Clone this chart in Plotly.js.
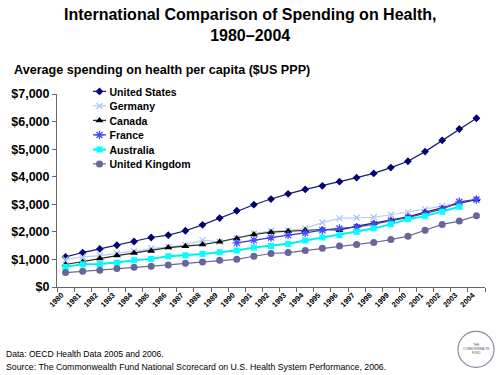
<!DOCTYPE html>
<html>
<head>
<meta charset="utf-8">
<script src="https://cdn.plot.ly/plotly-3.0.1.min.js"></script>
<style>html,body{margin:0;padding:0;background:#fff;}#chart{width:500px;height:375px;}</style>
</head>
<body>
<div id="chart"></div>
<script>
const years = ['1980','1981','1982','1983','1984','1985','1986','1987','1988','1989','1990','1991','1992','1993','1994','1995','1996','1997','1998','1999','2000','2001','2002','2003','2004'];
const unitedStates = [1090,1250,1380,1515,1650,1795,1880,2040,2255,2500,2765,2985,3190,3380,3540,3670,3820,3965,4120,4330,4560,4910,5320,5730,6120];
const germany = [995,1090,1140,1215,1300,1395,1450,1520,1700,1640,1770,1940,2030,2050,2125,2340,2490,2510,2530,2620,2716,2825,2934,3060,3150];
const canada = [815,910,1030,1140,1235,1310,1430,1480,1540,1640,1760,1905,1990,2025,2060,2085,2060,2205,2315,2425,2545,2716,2860,3030,3180];
const france = [null,null,null,null,null,null,null,null,null,null,1600,1700,1795,1880,1965,2060,2125,2170,2280,2400,2520,2670,2825,3090,3175];
const australia = [730,825,835,885,970,1020,1115,1150,1200,1260,1325,1430,1490,1565,1685,1795,1880,2000,2125,2280,2460,2570,2730,2910,null];
const unitedKingdom = [525,570,605,670,715,750,800,860,910,970,1005,1115,1215,1250,1325,1405,1490,1540,1615,1720,1845,2060,2270,2390,2580];

const seriesNames = ['United States','Germany','Canada','France','Australia','United Kingdom'];
const seriesData = [unitedStates, germany, canada, france, australia, unitedKingdom];
const lineColors = ['#1a1a70','#b4cff0','#2a2a2a','#3a3acc','#00f0f0','#6a6a98'];
const markerColors = ['#000070','#a8c8f0','#000000','#4a4aff','#00ffff','#666699'];
const markerSymbols = ['diamond','x-thin-open','triangle-up','asterisk-open','square','circle'];
const markerSizes = [6,6,7,7,6,7];
const lineWidths = [1.2,1.2,1.2,1.2,2,1.2];

const traces = seriesNames.map((n,i)=>({
  type:'scatter', mode:'lines+markers', name:n, x:years, y:seriesData[i],
  line:{color:lineColors[i], width:lineWidths[i]},
  marker:{symbol:markerSymbols[i], size:markerSizes[i], color:markerColors[i],
          line:{color:markerColors[i], width:(markerSymbols[i].indexOf('open')>=0?1.3:0)}},
  connectgaps:false
}));

const F = 'Liberation Sans, Arial, sans-serif';
const PX = v => (v-57)/428;          // pixel x -> paper x
const PY = v => (286.7-v)/192.7;     // pixel y -> paper y
const layout = {
  width:500, height:375,
  margin:{l:57, r:15, t:94, b:88},
  paper_bgcolor:'#ffffff', plot_bgcolor:'#ffffff',
  showlegend:true,
  legend:{x:PX(69.5), y:PY(77), xanchor:'left', yanchor:'top', bgcolor:'rgba(0,0,0,0)',
          font:{family:F, size:10.5, color:'#000', weight:'bold'}, itemwidth:30, tracegroupgap:0},
  xaxis:{type:'category', range:[-0.5,24.5], tickson:'boundaries', ticks:'outside', ticklen:4,
         tickcolor:'#666', showline:true, linecolor:'#666', linewidth:1, showgrid:false, zeroline:false,
         tickangle:-45, tickfont:{family:F, size:7.5, color:'#000', weight:'bold'}, ticklabelshift:-4, automargin:false},
  yaxis:{range:[0,7000], dtick:1000, tickprefix:'$', tickformat:',d', ticks:'outside', ticklen:4,
         tickcolor:'#666', showline:true, linecolor:'#666', linewidth:1, showgrid:false, zeroline:false,
         tickfont:{family:F, size:12.5, color:'#000', weight:'bold'}, automargin:false},
  annotations:[
    {text:'<b>International Comparison of Spending on Health,<br>1980–2004</b>', xref:'paper', yref:'paper',
     x:PX(250), y:PY(25.5), xanchor:'center', yanchor:'middle', showarrow:false,
     font:{family:F, size:16, color:'#000'}},
    {text:'<b>Average spending on health per capita ($US PPP)</b>', xref:'paper', yref:'paper',
     x:PX(12), y:PY(70), xanchor:'left', yanchor:'middle', showarrow:false, font:{family:F, size:12.6, color:'#000'}},
    {text:'Data: OECD Health Data 2005 and 2006.', xref:'paper', yref:'paper', x:PX(4), y:PY(353.2),
     xanchor:'left', yanchor:'middle', showarrow:false, font:{family:F, size:8.6, color:'#000'}},
    {text:'Source: The Commonwealth Fund National Scorecard on U.S. Health System Performance, 2006.', xref:'paper', yref:'paper', x:PX(4), y:PY(366.5),
     xanchor:'left', yanchor:'middle', showarrow:false, font:{family:F, size:8.75, color:'#000'}},
    {text:'THE<br>COMMONWEALTH<br>FUND', xref:'paper', yref:'paper', x:PX(476), y:PY(349),
     xanchor:'center', yanchor:'middle', showarrow:false, font:{family:F, size:3, color:'#555'}}
  ],
  shapes:[
    {type:'circle', xref:'paper', yref:'paper', x0:PX(458), x1:PX(494), y0:PY(331), y1:PY(367),
     line:{color:'#8a8aa0', width:1.2}, fillcolor:'rgba(0,0,0,0)'}
  ]
};
Plotly.newPlot('chart', traces, layout, {displayModeBar:false, staticPlot:true}).then(gd=>{
  // tighten legend rows and shorten legend keys to match the reference
  const items = gd.querySelectorAll('.legend .traces');
  if (!items.length) return;
  const first = (items[0].getAttribute('transform')||'').match(/translate\(([-\d.]+)[ ,]+([-\d.]+)\)/);
  const y0 = first ? parseFloat(first[2]) : 0;
  items.forEach((g,i)=>{
    const m = (g.getAttribute('transform')||'').match(/translate\(([-\d.]+)[ ,]+([-\d.]+)\)/);
    const x0 = m ? parseFloat(m[1]) : 0;
    g.setAttribute('transform','translate('+x0+','+(y0+i*14.5)+')');
    g.querySelectorAll('.legendlines path').forEach(p=>p.setAttribute('d','M23.5,0h13'));
    g.querySelectorAll('.legendpoints path.scatterpts').forEach(p=>{
      p.setAttribute('transform','translate(30,0)');
    });
  });
});
</script>
</body>
</html>
